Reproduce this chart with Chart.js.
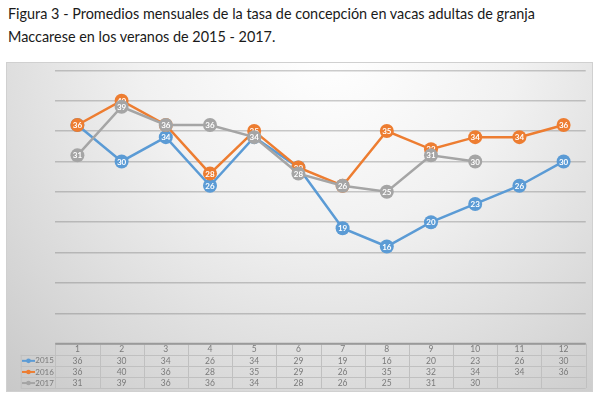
<!DOCTYPE html>
<html>
<head>
<meta charset="utf-8">
<script src="https://cdn.jsdelivr.net/npm/chart.js@4/dist/chart.umd.min.js"></script>
<style>
  html, body { margin: 0; padding: 0; background: #ffffff; }
  body { width: 600px; height: 399px; position: relative; overflow: hidden; }
  #title {
    position: absolute; left: 8px; top: 2px;
    font-family: Lato, "Liberation Sans", sans-serif;
    font-size: 15px; line-height: 23px; color: #1a1a1a;
    white-space: nowrap; transform-origin: 0 0;
  }
  #chart { position: absolute; left: 6px; top: 62px; }
</style>
</head>
<body>
<div id="title"><span id="l1">Figura 3 - Promedios mensuales de la tasa de concepción en vacas adultas de granja</span><br><span>Maccarese en los veranos de 2015 - 2017.</span></div>
<canvas id="chart" width="587" height="330"></canvas>
<script>
const months = ['1', '2', '3', '4', '5', '6', '7', '8', '9', '10', '11', '12'];
const years = ['2015', '2016', '2017'];
const serie2015 = [36, 30, 34, 26, 34, 29, 19, 16, 20, 23, 26, 30];
const serie2016 = [36, 40, 36, 28, 35, 29, 26, 35, 32, 34, 34, 36];
const serie2017 = [31, 39, 36, 36, 34, 28, 26, 25, 31, 30, null, null];
const yMin = 0, yMax = 45, yStep = 5;

const colors = ['#5B9BD5', '#ED7D31', '#A5A5A5'];
const series = [serie2015, serie2016, serie2017];

// ajustar ancho del titulo (Calibri no esta disponible)
const title = document.getElementById('title');
const w1 = document.getElementById('l1').getBoundingClientRect().width;
title.style.transform = 'scaleX(' + (527 / w1) + ')';

const background = {
    id: 'background',
    beforeDraw(chart) {
        const ctx = chart.ctx;
        const w = chart.width, h = chart.height;
        ctx.save();
        const g = ctx.createRadialGradient(w * 0.55, -20, 10, w * 0.55, -20, 520);
        g.addColorStop(0, '#ffffff');
        g.addColorStop(0.35, '#f1f1f1');
        g.addColorStop(0.7, '#d8d8d8');
        g.addColorStop(1, '#c2c2c2');
        ctx.fillStyle = g;
        ctx.fillRect(0, 0, w, h);
        ctx.strokeStyle = '#d0d0d0';
        ctx.lineWidth = 1;
        ctx.strokeRect(0.5, 0.5, w - 1, h - 1);
        ctx.restore();
    }
};

const pointLabels = {
    id: 'pointLabels',
    afterDatasetDraw(chart, args) {
        const ctx = chart.ctx;
        const data = chart.data.datasets[args.index].data;
        ctx.save();
        ctx.font = 'bold 8px Lato, "Liberation Sans", sans-serif';
        ctx.fillStyle = '#ffffff';
        ctx.textAlign = 'center';
        ctx.textBaseline = 'middle';
        args.meta.data.forEach((pt, i) => {
            if (data[i] == null) return;
            ctx.fillText(String(data[i]), pt.x, pt.y + 0.5);
        });
        ctx.restore();
    }
};

const dataTable = {
    id: 'dataTable',
    afterDraw(chart) {
        const ctx = chart.ctx;
        const area = chart.chartArea;
        const x = chart.scales.x;
        const colW = (area.right - area.left) / months.length;
        const rowH = 11.1;
        const top = area.bottom;
        const labelLeft = 14.7;
        ctx.save();
        ctx.font = '8.5px Lato, "Liberation Sans", sans-serif';
        ctx.fillStyle = '#7a7a7a';
        ctx.textAlign = 'center';
        ctx.textBaseline = 'middle';

        // lineas de la tabla
        ctx.strokeStyle = '#c0c0c0';
        ctx.lineWidth = 1;
        ctx.beginPath();
        for (let r = 1; r <= 4; r++) {
            const y = Math.round(top + r * rowH) + 0.5;
            ctx.moveTo(labelLeft, y);
            ctx.lineTo(area.right, y);
        }
        for (let c = 0; c <= months.length; c++) {
            const xx = Math.round(area.left + c * colW) + 0.5;
            ctx.moveTo(xx, top);
            ctx.lineTo(xx, top + 4 * rowH);
        }
        ctx.moveTo(labelLeft + 0.5, top + rowH);
        ctx.lineTo(labelLeft + 0.5, top + 4 * rowH);
        ctx.stroke();

        // cabecera
        months.forEach((m, i) => {
            ctx.fillText(m, x.getPixelForValue(i), top + rowH / 2 + 0.5);
        });

        // filas
        series.forEach((s, r) => {
            const cy = top + (r + 1.5) * rowH + 0.5;
            s.forEach((v, i) => {
                if (v == null) return;
                ctx.fillText(String(v), x.getPixelForValue(i), cy);
            });
            // clave de leyenda
            ctx.strokeStyle = colors[r];
            ctx.lineWidth = 2;
            ctx.beginPath();
            ctx.moveTo(16, cy);
            ctx.lineTo(29, cy);
            ctx.stroke();
            ctx.fillStyle = colors[r];
            ctx.beginPath();
            ctx.arc(22.5, cy, 2.3, 0, Math.PI * 2);
            ctx.fill();
            ctx.fillStyle = '#7a7a7a';
            ctx.font = '8px Lato, "Liberation Sans", sans-serif';
            ctx.textAlign = 'right';
            ctx.fillText(years[r], area.left - 1.5, cy);
            ctx.font = '8.5px Lato, "Liberation Sans", sans-serif';
            ctx.textAlign = 'center';
        });

        // eje horizontal
        ctx.strokeStyle = '#9a9a9a';
        ctx.lineWidth = 2;
        ctx.beginPath();
        ctx.moveTo(area.left, top);
        ctx.lineTo(area.right, top);
        ctx.stroke();
        ctx.restore();
    }
};

const datasets = series.map((s, i) => ({
    label: years[i],
    data: s,
    borderColor: colors[i],
    backgroundColor: colors[i],
    pointBackgroundColor: colors[i],
    pointBorderColor: colors[i],
    borderWidth: 2.5,
    pointRadius: 7,
    pointBorderWidth: 0,
    tension: 0,
    spanGaps: false,
    order: 2 - i
}));

new Chart(document.getElementById('chart'), {
    type: 'line',
    data: { labels: months, datasets: datasets },
    options: {
        responsive: false,
        animation: false,
        layout: { padding: { left: 49.3, right: 7.3, top: 8.3, bottom: 48.3 } },
        plugins: {
            legend: { display: false },
            title: { display: false },
            tooltip: { enabled: false }
        },
        scales: {
            x: {
                display: false,
                offset: true
            },
            y: {
                min: yMin,
                max: yMax,
                ticks: { display: false, stepSize: yStep },
                border: { display: false },
                grid: {
                    drawTicks: false,
                    color: 'rgba(110,110,110,0.35)',
                    lineWidth: 1.5
                }
            }
        }
    },
    plugins: [background, pointLabels, dataTable]
});
</script>
</body>
</html>
